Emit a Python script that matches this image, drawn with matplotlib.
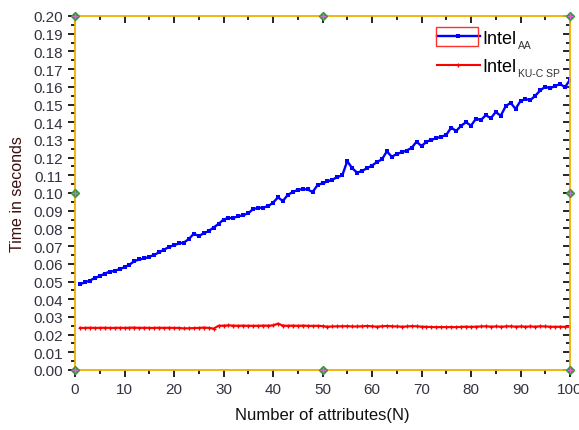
import matplotlib
matplotlib.use("Agg")
import matplotlib.pyplot as plt
from matplotlib.ticker import MultipleLocator, FormatStrFormatter
from matplotlib.patches import Rectangle

plt.rcParams['font.family'] = ['Liberation Sans', 'DejaVu Sans']

n_attr = list(range(1, 101))
intel_aa = [
    0.0485, 0.0495, 0.0505, 0.0520, 0.0530, 0.0545, 0.0555, 0.0560, 0.0570, 0.0580,
    0.0595, 0.0615, 0.0625, 0.0630, 0.0640, 0.0650, 0.0665, 0.0680, 0.0695, 0.0705,
    0.0715, 0.0720, 0.0740, 0.0770, 0.0757, 0.0772, 0.0785, 0.0805, 0.0825, 0.0850,
    0.0858, 0.0860, 0.0868, 0.0875, 0.0885, 0.0910, 0.0915, 0.0918, 0.0925, 0.0945,
    0.0975, 0.0955, 0.0990, 0.1005, 0.1018, 0.1022, 0.1020, 0.1005, 0.1045, 0.1055,
    0.1065, 0.1075, 0.1090, 0.1100, 0.1180, 0.1140, 0.1115, 0.1125, 0.1140, 0.1155,
    0.1175, 0.1190, 0.1235, 0.1205, 0.1220, 0.1230, 0.1240, 0.1255, 0.1290, 0.1265,
    0.1290, 0.1300, 0.1310, 0.1318, 0.1328, 0.1370, 0.1350, 0.1380, 0.1400, 0.1380,
    0.1420, 0.1412, 0.1440, 0.1422, 0.1458, 0.1436, 0.1490, 0.1510, 0.1475, 0.1520,
    0.1530, 0.1525, 0.1550, 0.1580, 0.1600, 0.1592, 0.1605, 0.1615, 0.1598, 0.1640,
]
intel_kucsp = [
    0.0238, 0.0238, 0.0239, 0.0238, 0.0238, 0.0239, 0.0238, 0.0238, 0.0239, 0.0238,
    0.0239, 0.0240, 0.0238, 0.0239, 0.0238, 0.0238, 0.0239, 0.0238, 0.0239, 0.0238,
    0.0238, 0.0235, 0.0236, 0.0237, 0.0238, 0.0240, 0.0238, 0.0234, 0.0250, 0.0251,
    0.0252, 0.0251, 0.0250, 0.0251, 0.0250, 0.0250, 0.0250, 0.0251, 0.0251, 0.0252,
    0.0262, 0.0251, 0.0250, 0.0251, 0.0250, 0.0251, 0.0250, 0.0249, 0.0250, 0.0248,
    0.0245, 0.0246, 0.0247, 0.0247, 0.0248, 0.0246, 0.0246, 0.0247, 0.0249, 0.0247,
    0.0245, 0.0247, 0.0249, 0.0247, 0.0246, 0.0245, 0.0246, 0.0248, 0.0247, 0.0245,
    0.0244, 0.0243, 0.0242, 0.0243, 0.0242, 0.0243, 0.0242, 0.0244, 0.0245, 0.0244,
    0.0245, 0.0246, 0.0247, 0.0245, 0.0246, 0.0245, 0.0246, 0.0247, 0.0245, 0.0246,
    0.0245, 0.0246, 0.0245, 0.0247, 0.0246, 0.0245, 0.0244, 0.0245, 0.0244, 0.0245,
]
series_names = ['Intel', 'Intel']
series_subs = ['AA', 'KU-C SP']
anchor_x = [0, 0, 0, 50, 50, 100, 100, 100]
anchor_y = [0.0, 0.10, 0.20, 0.0, 0.20, 0.0, 0.10, 0.20]

fig = plt.figure(figsize=(5.79, 4.31), dpi=100)
ax = fig.add_axes([75/579, 1-371/431, (570-75)/579, (371-17)/431])

l1, = ax.plot(n_attr, intel_aa, color='#0000ff', lw=1.7, marker='s', ms=2.3,
              markeredgewidth=0, label=series_names[0])
l2, = ax.plot(n_attr, intel_kucsp, color='#ff0000', lw=1.5, marker='+', ms=3.2,
              markeredgewidth=0.9, label=series_names[1])

ax.set_xlim(0, 100)
ax.set_ylim(0, 0.20)
ax.xaxis.set_major_locator(MultipleLocator(10))
ax.xaxis.set_minor_locator(MultipleLocator(5))
ax.yaxis.set_major_locator(MultipleLocator(0.01))
ax.yaxis.set_minor_locator(MultipleLocator(0.005))
ax.yaxis.set_major_formatter(FormatStrFormatter('%.2f'))

tick_color = '#333340'
ax.tick_params(axis='both', which='both', labelsize=11, labelcolor=tick_color,
               width=1.2, color='black')
ax.tick_params(axis='x', which='major', direction='out', length=5, top=True)
ax.tick_params(axis='x', which='minor', direction='out', length=3, top=True)
ax.tick_params(axis='y', which='major', direction='out', length=5, right=True)
ax.tick_params(axis='y', which='minor', direction='out', length=3, right=True)
for t in ax.xaxis.get_major_ticks() + ax.xaxis.get_minor_ticks():
    t.tick2line.set_marker(3)
for t in ax.yaxis.get_major_ticks() + ax.yaxis.get_minor_ticks():
    t.tick2line.set_marker(0)

for sp in ax.spines.values():
    sp.set_color('#f0b000')
    sp.set_linewidth(1.3)

ax.set_xlabel('Number of attributes(N)', fontsize=12, color='#111111', labelpad=8)
ax.set_ylabel('Time in seconds', fontsize=11.5, color='#3a0f0f', labelpad=6)

ax.plot(anchor_x, anchor_y, linestyle='none', marker='D', ms=4, color='#2a9a2a',
        clip_on=False, zorder=5)
ax.plot(anchor_x, anchor_y, linestyle='none', marker='+', ms=5, color='#e060e0',
        mew=1, clip_on=False, zorder=6)

leg = ax.legend(handles=[l1, l2], loc='upper left',
                bbox_to_anchor=((433-75)/495, 1 - 10/354), frameon=False,
                fontsize=13, handlelength=2.4, handletextpad=0.15, labelspacing=0.65,
                borderaxespad=0, borderpad=0.2)
for txt, sub in zip(leg.get_texts(), series_subs):
    ax.annotate(sub, xy=(1, 0.05), xycoords=txt, xytext=(1.0, 4.5),
                textcoords='offset points', va='top', ha='left',
                fontsize=7.5, color='#333333', zorder=20, annotation_clip=False)
fig.add_artist(Rectangle((436/579, 1-47/431), 42/579, 19/431, transform=fig.transFigure,
                         fill=False, edgecolor='#ff3030', lw=1))

fig.savefig('out.png', dpi=100)
